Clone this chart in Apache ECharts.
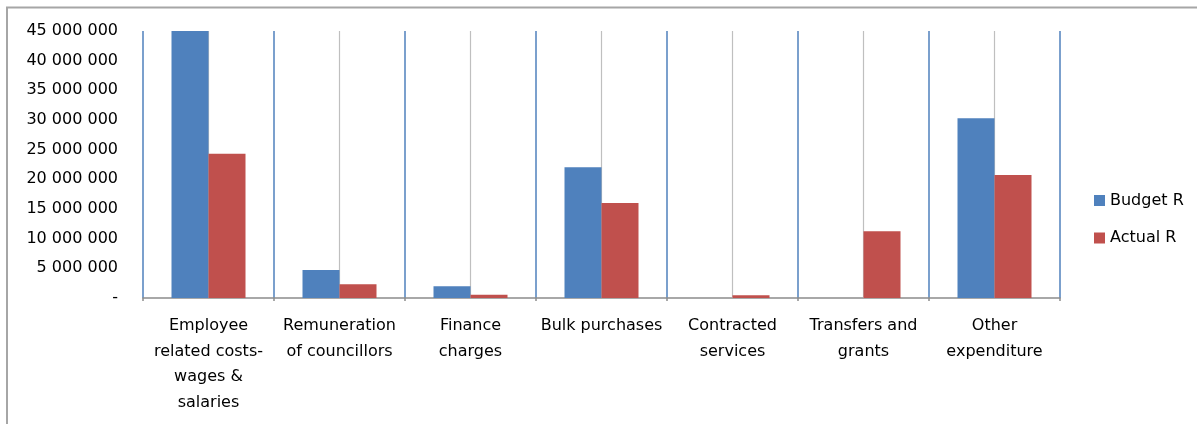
<!DOCTYPE html>
<html>
<head>
<meta charset="utf-8">
<script src="https://cdn.jsdelivr.net/npm/echarts@6/dist/echarts.min.js"></script>
<style>
  html, body { margin: 0; padding: 0; background: #fff; }
  #chart { width: 1197px; height: 424px; }
</style>
</head>
<body>
<div id="chart"></div>
<script>
const categories = [
  'Employee\nrelated costs-\nwages &\nsalaries',
  'Remuneration\nof councillors',
  'Finance\ncharges',
  'Bulk purchases',
  'Contracted\nservices',
  'Transfers and\ngrants',
  'Other\nexpenditure'
];
const seriesNames = ['Budget R', 'Actual R'];
const budget = [45000000, 4720000, 1970000, 22030000, 0, 0, 30280000];
const actual = [24320000, 2310000, 560000, 16010000, 450000, 11240000, 20730000];
const yTicks = { min: 0, max: 45000000, step: 5000000 };

const FONT = 'DejaVu Sans';

function fmt(v) {
  if (v === 0) return '-';
  return String(Math.round(v)).replace(/\B(?=(\d{3})+(?!\d))/g, ' ');
}

const chart = echarts.init(document.getElementById('chart'), null, { renderer: 'canvas' });
chart.setOption({
  animation: false,
  backgroundColor: '#ffffff',
  textStyle: { fontFamily: FONT },
  graphic: [{
    type: 'rect',
    shape: { x: 7, y: 7.5, width: 1400, height: 600 },
    style: { fill: 'none', stroke: '#a6a6a6', lineWidth: 2 },
    silent: true, z: 0
  }],
  grid: { left: 143, right: 137, top: 31, bottom: 126, containLabel: false },
  legend: {
    orient: 'vertical',
    left: 1094,
    top: 192.5,
    padding: 0,
    itemGap: 21.5,
    itemWidth: 11,
    itemHeight: 11,
    itemTextGap: 6,
    icon: 'rect',
    data: seriesNames,
    itemStyle: { borderWidth: 0 },
    textStyle: { fontFamily: FONT, fontSize: 16, color: '#000', lineHeight: 16 }
  },
  xAxis: {
    type: 'category',
    data: categories,
    boundaryGap: true,
    axisLine: { show: true, lineStyle: { color: '#8c8c8c', width: 1.5 } },
    axisTick: { show: true, length: 3, lineStyle: { color: '#8c8c8c', width: 1.5 } },
    axisLabel: {
      interval: 0,
      margin: 15,
      fontFamily: FONT,
      fontSize: 16,
      lineHeight: 25.7,
      color: '#000',
      align: 'center',
      verticalAlign: 'top'
    },
    splitLine: { show: true, lineStyle: { color: '#4f81bd', width: 1.5 } }
  },
  yAxis: {
    type: 'value',
    min: yTicks.min,
    max: yTicks.max,
    interval: yTicks.step,
    axisLine: { show: false },
    axisTick: { show: false },
    splitLine: { show: false },
    axisLabel: {
      margin: 25,
      fontFamily: FONT,
      fontSize: 16,
      color: '#000',
      formatter: fmt
    }
  },
  series: [
    {
      name: 'centerLines',
      type: 'line',
      data: [],
      silent: true,
      markLine: {
        z: 1,
        silent: true,
        symbol: 'none',
        label: { show: false },
        lineStyle: { color: '#bfbfbf', width: 1.2, type: 'solid' },
        emphasis: { disabled: true },
        data: categories.map((c, i) => ({ xAxis: i }))
      }
    },
    {
      name: seriesNames[0],
      type: 'bar',
      data: budget,
      barWidth: 37,
      barGap: '0%',
      z: 3,
      itemStyle: { color: '#4f81bd', borderWidth: 0 }
    },
    {
      name: seriesNames[1],
      type: 'bar',
      data: actual,
      barWidth: 37,
      barGap: '0%',
      z: 3,
      itemStyle: { color: '#c0504d', borderWidth: 0 }
    }
  ]
});
</script>
</body>
</html>
